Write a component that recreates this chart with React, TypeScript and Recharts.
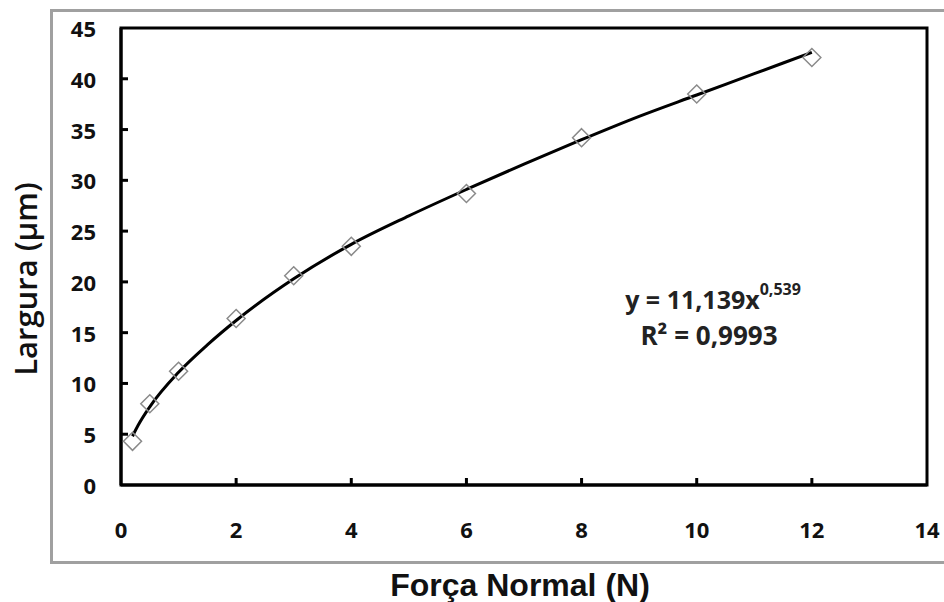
import {
  ComposedChart,
  Line,
  Scatter,
  XAxis,
  YAxis,
  ReferenceArea,
} from "recharts";

// Measured points (Força Normal in N, Largura in µm)
const forceN = [0.2, 0.5, 1, 2, 3, 4, 6, 8, 10, 12];
const widthUm = [4.3, 8.0, 11.2, 16.4, 20.6, 23.5, 28.7, 34.2, 38.5, 42.1];

// Trend line
const trendX = [0.2, 0.3, 0.5, 1, 1.5, 2, 3, 4, 5, 6, 7, 8, 9, 10, 11, 12];
const trendY = [4.8, 5.9, 7.7, 11.1, 13.8, 16.2, 20.3, 23.7, 26.5, 29.1, 31.6, 34.0, 36.3, 38.4, 40.5, 42.6];

const xTicks = [0, 2, 4, 6, 8, 10, 12, 14];
const yTicks = [0, 5, 10, 15, 20, 25, 30, 35, 40, 45];

const points = forceN.map((x, i) => ({ x, y: widthUm[i] }));
const trend = trendX.map((x, i) => ({ x, y: trendY[i] }));

const tickFont = "'Open Sans', sans-serif";

const XTick = ({ x, y, payload }: any) => (
  <g>
    {payload.value > 0 && payload.value < 14 && (
      <line x1={x} y1={y} x2={x} y2={y - 7} stroke="#000" strokeWidth={3} />
    )}
    <text
      x={x}
      y={y + 44}
      textAnchor="middle"
      dominantBaseline="central"
      fontFamily={tickFont}
      fontWeight={700}
      fontSize={22}
      fill="#111"
    >
      {payload.value}
    </text>
  </g>
);

const YTick = ({ x, y, payload }: any) => (
  <g>
    {payload.value > 0 && payload.value < 45 && (
      <line x1={x} y1={y} x2={x + 7} y2={y} stroke="#000" strokeWidth={3} />
    )}
    <text
      x={x - 25}
      y={y}
      textAnchor="end"
      dominantBaseline="central"
      fontFamily={tickFont}
      fontWeight={700}
      fontSize={22}
      fill="#111"
    >
      {payload.value}
    </text>
  </g>
);

const Diamond = ({ cx, cy }: any) => (
  <path
    d={`M${cx},${cy - 9} L${cx + 9},${cy} L${cx},${cy + 9} L${cx - 9},${cy} Z`}
    fill="none"
    stroke="#8a8a8a"
    strokeWidth={1.5}
  />
);

export default function App() {
  return (
    <div style={{ position: "fixed", left: 0, top: 0, width: 944, height: 602, background: "#fff", overflow: "hidden" }}>
      {/* outer frame of the figure, open on the right */}
      <div
        style={{
          position: "absolute",
          left: 50,
          top: 9,
          width: 900,
          height: 549,
          borderTop: "3px solid #a0a0a0",
          borderLeft: "3px solid #a0a0a0",
          borderBottom: "3px solid #a0a0a0",
        }}
      />
      <div style={{ position: "absolute", left: 0, top: 0 }}>
        <ComposedChart width={944} height={602} margin={{ top: 28, right: 17, bottom: 0, left: 0 }}>
          <ReferenceArea x1={0} x2={14} y1={0} y2={45} fill="none" stroke="#000" strokeWidth={3} />
          <XAxis
            type="number"
            dataKey="x"
            domain={[0, 14]}
            ticks={xTicks}
            height={117}
            axisLine={{ stroke: "#000", strokeWidth: 3 }}
            tickLine={false}
            tickSize={0}
            tickMargin={0}
            tick={<XTick />}
            allowDataOverflow
          />
          <YAxis
            type="number"
            dataKey="y"
            domain={[0, 45]}
            ticks={yTicks}
            width={121}
            axisLine={{ stroke: "#000", strokeWidth: 3 }}
            tickLine={false}
            tickSize={0}
            tickMargin={0}
            tick={<YTick />}
            allowDataOverflow
          />
          <Scatter data={points} dataKey="y" shape={<Diamond />} isAnimationActive={false} />
          <Line
            data={trend}
            dataKey="y"
            type="monotone"
            stroke="#000"
            strokeWidth={3}
            dot={false}
            activeDot={false}
            isAnimationActive={false}
          />
          <text
            x={25}
            y={279}
            transform="rotate(-90 25 279)"
            textAnchor="middle"
            dominantBaseline="central"
            fontFamily="'Open Sans', sans-serif"
            fontWeight={600}
            fontSize={31}
            fill="#111"
          >
            Largura (µm)
          </text>
          <text
            x={520}
            y={585}
            textAnchor="middle"
            dominantBaseline="central"
            fontFamily="'Liberation Sans', Arial, sans-serif"
            fontWeight={700}
            fontSize={32}
            fill="#111"
          >
            Força Normal (N)
          </text>
          <text
            x={713}
            y={299}
            textAnchor="middle"
            dominantBaseline="central"
            fontFamily={tickFont}
            fontWeight={700}
            fontSize={25}
            fill="#222"
          >
            y = 11,139x
            <tspan fontSize={16} dy={-10}>0,539</tspan>
          </text>
          <text
            x={709}
            y={335}
            textAnchor="middle"
            dominantBaseline="central"
            fontFamily={tickFont}
            fontWeight={700}
            fontSize={26}
            fill="#222"
          >
            R² = 0,9993
          </text>
        </ComposedChart>
      </div>
    </div>
  );
}
